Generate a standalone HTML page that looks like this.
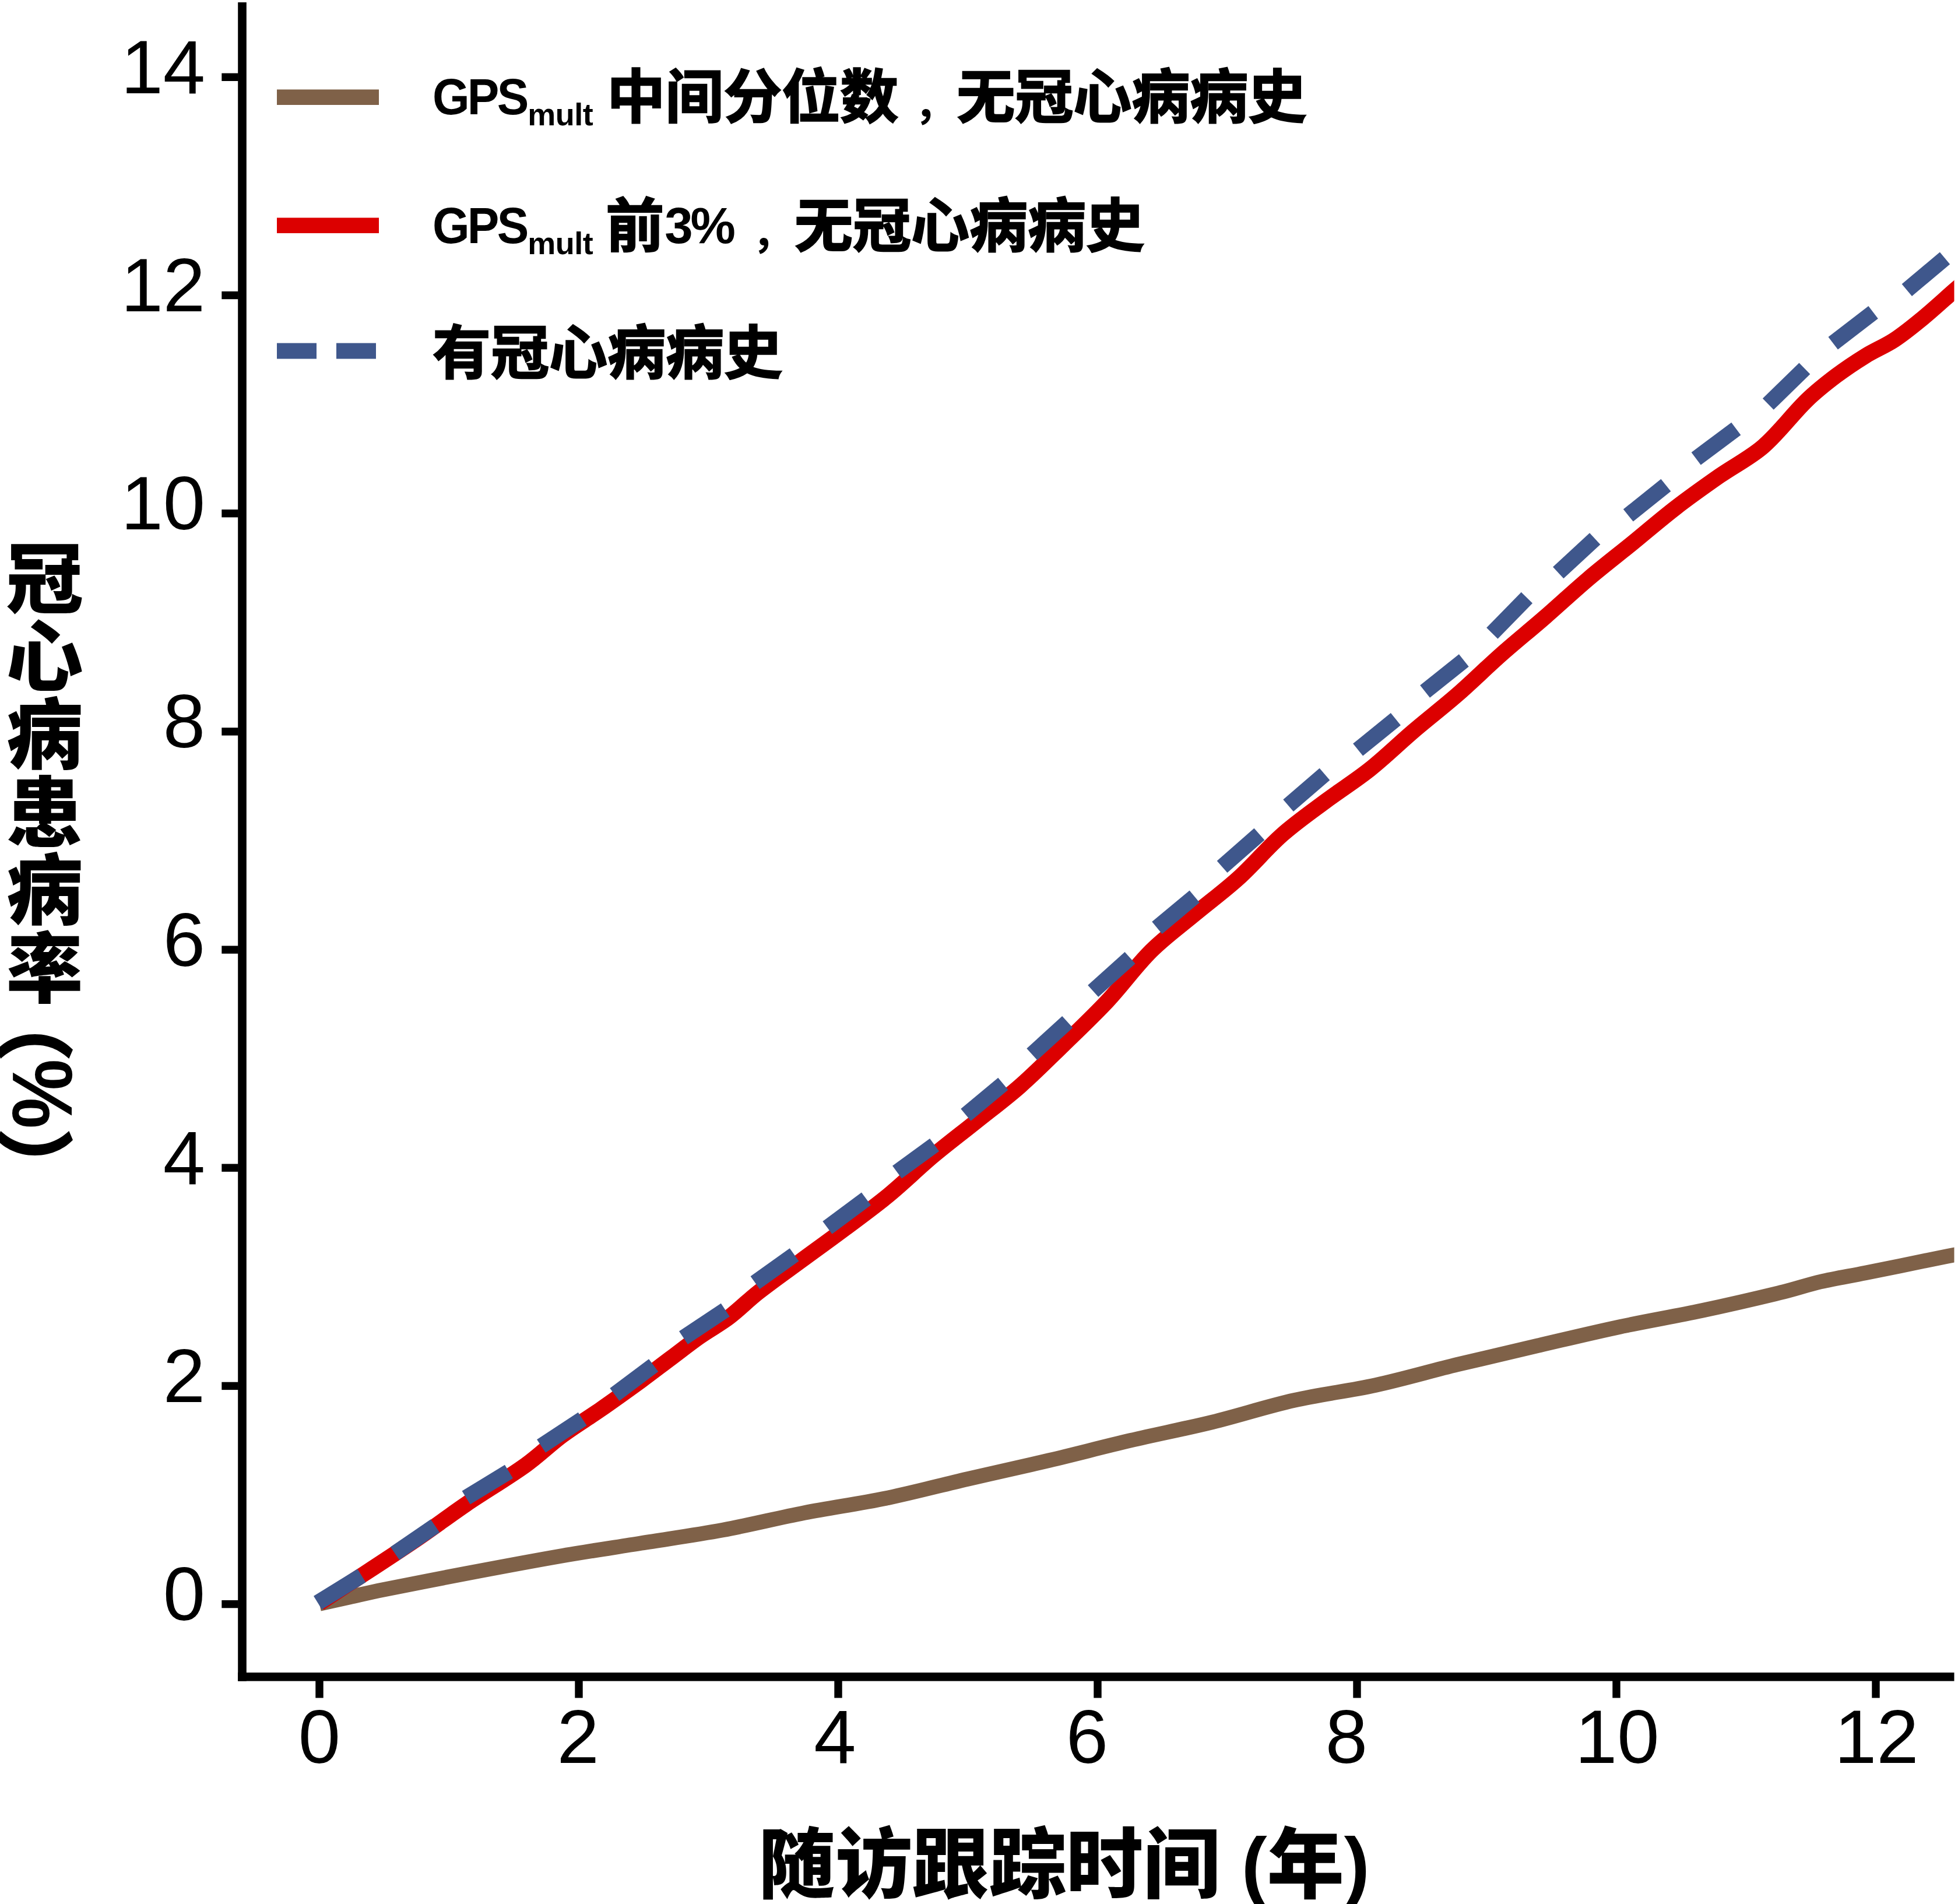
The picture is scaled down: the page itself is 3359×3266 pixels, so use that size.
<!DOCTYPE html>
<html lang="zh-CN"><head><meta charset="utf-8"><title>冠心病患病率</title>
<style>
html,body{margin:0;padding:0;background:#fff;width:3359px;height:3266px;overflow:hidden;}
.page{width:3359px;height:3266px;position:relative;overflow:hidden;background:#fff;font-family:"Liberation Sans","Noto Sans CJK SC",sans-serif;color:#000;}
.yl{position:absolute;right:3007px;font-size:130px;line-height:130px;height:130px;white-space:nowrap;text-align:right;}
.xl{position:absolute;width:400px;text-align:center;font-size:130px;line-height:130px;height:130px;top:2914px;white-space:nowrap;}
.lg{position:absolute;left:742px;white-space:nowrap;font-weight:700;font-size:100px;line-height:140px;height:140px;}
.lg span{display:inline-block;vertical-align:baseline;}
.lg .en{font-size:87px;letter-spacing:-4px;position:relative;top:-6px;transform:scaleX(0.94);transform-origin:0 50%;margin-right:-10px;}
.lg .sub{font-size:54px;position:relative;top:12.5px;margin-left:1.5px;letter-spacing:-0.5px;}
.xt{position:absolute;left:1301px;top:3110px;font-weight:900;font-size:132px;line-height:180px;white-space:nowrap;}
.xt .en{font-weight:700;}
.lg .zh{-webkit-text-stroke:2.4px #000;}
.lg .cm{-webkit-text-stroke:0;position:relative;left:27px;font-size:72px;width:100px;top:1.5px;}
.yt{position:absolute;left:-2px;top:925px;letter-spacing:1.5px;width:132px;font-weight:900;font-size:132px;line-height:132px;writing-mode:vertical-rl;white-space:nowrap;}
.rot{position:absolute;white-space:nowrap;transform-origin:0 0;transform:rotate(90deg);font-weight:900;line-height:1;}
</style></head><body><div class="page">

<svg width="3359" height="3266" viewBox="0 0 3359 3266" style="position:absolute;left:0;top:0">
<defs><clipPath id="plotclip"><rect x="0" y="0" width="3352.5" height="3266"/></clipPath></defs>
<path d="M548.0,2751.0 C565.3,2747.2 582.7,2743.3 600.0,2739.5 C619.0,2735.3 637.9,2730.9 657.0,2727.0 C704.6,2717.4 752.3,2708.1 800.0,2699.0 C853.3,2688.9 906.6,2678.8 960.0,2669.5 C1006.6,2661.4 1053.3,2654.5 1100.0,2647.0 C1146.7,2639.5 1193.5,2633.1 1240.0,2624.5 C1286.9,2615.8 1333.2,2604.1 1380.0,2595.0 C1426.5,2585.9 1473.6,2579.6 1520.0,2570.0 C1566.9,2560.3 1613.3,2547.8 1660.0,2537.0 C1706.6,2526.2 1753.4,2516.0 1800.0,2505.0 C1846.8,2493.9 1893.2,2481.7 1940.0,2470.7 C1986.6,2459.8 2033.6,2450.7 2080.0,2439.3 C2126.9,2427.8 2172.9,2412.6 2220.0,2402.0 C2266.3,2391.5 2313.6,2386.2 2360.0,2376.0 C2407.0,2365.7 2453.2,2352.1 2500.0,2340.7 C2546.6,2329.4 2593.3,2318.6 2640.0,2307.8 C2686.6,2297.0 2733.2,2285.7 2780.0,2275.7 C2826.5,2265.8 2873.5,2257.9 2920.0,2248.0 C2966.8,2238.0 3013.5,2227.2 3060.0,2215.9 C3081.2,2210.8 3101.8,2203.6 3123.0,2198.7 C3148.5,2192.8 3174.4,2188.7 3200.0,2183.5 C3246.7,2174.1 3293.3,2164.5 3340.0,2155.0 C3360.0,2151.0 3380.0,2147.0 3400.0,2143.0" fill="none" stroke="#7f6148" stroke-width="25.5" stroke-linejoin="round" stroke-linecap="butt" clip-path="url(#plotclip)"/>
<path d="M548.0,2750.0 C559.7,2742.3 571.3,2734.7 583.0,2727.0 C626.0,2698.7 669.4,2670.9 712.0,2642.0 C741.7,2621.9 770.3,2600.2 800.0,2580.0 C833.7,2557.2 868.9,2536.7 902.0,2513.0 C924.0,2497.3 943.3,2478.1 965.0,2462.0 C985.5,2446.8 1007.5,2433.6 1028.5,2419.0 C1052.5,2402.3 1076.3,2385.2 1100.0,2368.0 C1116.8,2355.7 1133.3,2342.9 1150.0,2330.4 C1166.7,2317.9 1183.0,2305.0 1200.0,2293.0 C1216.3,2281.5 1234.1,2272.0 1250.0,2260.0 C1267.5,2246.8 1282.8,2231.0 1300.0,2217.5 C1324.5,2198.3 1350.0,2180.4 1375.0,2162.0 C1400.0,2143.6 1425.2,2125.6 1450.0,2107.0 C1475.2,2088.1 1500.7,2069.6 1525.0,2049.6 C1550.7,2028.4 1574.5,2004.8 1600.0,1983.3 C1624.5,1962.7 1650.1,1943.5 1675.0,1923.5 C1700.1,1903.4 1725.9,1884.2 1750.0,1863.0 C1775.9,1840.2 1800.2,1815.6 1825.0,1791.5 C1850.3,1766.9 1875.9,1742.7 1900.0,1717.0 C1926.0,1689.2 1948.0,1657.8 1975.0,1631.0 C1998.2,1607.9 2024.9,1588.6 2050.0,1567.7 C2074.9,1547.0 2101.0,1527.8 2125.0,1506.0 C2151.1,1482.3 2173.6,1454.8 2200.0,1431.5 C2223.7,1410.6 2249.7,1392.5 2275.0,1373.6 C2299.7,1355.2 2325.9,1338.8 2350.0,1319.6 C2376.0,1298.9 2399.7,1275.5 2425.0,1254.0 C2449.7,1232.9 2475.5,1213.1 2500.0,1191.7 C2525.5,1169.4 2549.6,1145.5 2575.0,1123.0 C2599.6,1101.2 2625.2,1080.6 2650.0,1059.0 C2675.2,1037.1 2699.5,1014.3 2725.0,992.7 C2749.5,971.9 2775.0,952.3 2800.0,932.0 C2825.0,911.6 2849.4,890.4 2875.0,870.7 C2899.5,851.8 2924.7,834.0 2950.0,816.3 C2974.7,799.0 3002.2,785.5 3025.0,765.7 C3052.5,741.9 3073.9,711.6 3100.0,686.3 C3115.6,671.2 3132.7,657.7 3150.0,644.6 C3166.1,632.5 3182.9,621.3 3200.0,610.7 C3216.2,600.7 3234.1,593.5 3250.0,583.0 C3267.5,571.4 3283.8,558.0 3300.0,544.6 C3317.8,529.9 3334.7,514.2 3352.0,499.0 C3368.0,485.0 3384.0,471.0 3400.0,457.0" fill="none" stroke="#dc0000" stroke-width="27" stroke-linejoin="round" stroke-linecap="butt" clip-path="url(#plotclip)"/>
<path d="M545.1,2749.2 L620.4,2702.8" fill="none" stroke="#3f578c" stroke-width="27" stroke-linecap="butt"/>
<path d="M677.5,2664.6 L746.5,2617.4" fill="none" stroke="#3f578c" stroke-width="27" stroke-linecap="butt"/>
<path d="M799.6,2569.1 L873.0,2524.3" fill="none" stroke="#3f578c" stroke-width="27" stroke-linecap="butt"/>
<path d="M928.5,2480.5 L999.2,2433.9" fill="none" stroke="#3f578c" stroke-width="27" stroke-linecap="butt"/>
<path d="M1054.4,2392.1 L1121.2,2342.0" fill="none" stroke="#3f578c" stroke-width="27" stroke-linecap="butt"/>
<path d="M1172.5,2294.8 L1244.3,2247.0" fill="none" stroke="#3f578c" stroke-width="27" stroke-linecap="butt"/>
<path d="M1295.4,2200.3 L1362.6,2152.2" fill="none" stroke="#3f578c" stroke-width="27" stroke-linecap="butt"/>
<path d="M1419.4,2105.9 L1486.0,2056.3" fill="none" stroke="#3f578c" stroke-width="27" stroke-linecap="butt"/>
<path d="M1539.0,2010.7 L1603.1,1963.8" fill="none" stroke="#3f578c" stroke-width="27" stroke-linecap="butt"/>
<path d="M1656.9,1912.4 L1720.9,1859.2" fill="none" stroke="#3f578c" stroke-width="27" stroke-linecap="butt"/>
<path d="M1770.4,1808.4 L1831.3,1753.0" fill="none" stroke="#3f578c" stroke-width="27" stroke-linecap="butt"/>
<path d="M1875.2,1700.0 L1938.6,1643.0" fill="none" stroke="#3f578c" stroke-width="27" stroke-linecap="butt"/>
<path d="M1984.9,1591.5 L2049.3,1537.9" fill="none" stroke="#3f578c" stroke-width="27" stroke-linecap="butt"/>
<path d="M2096.6,1486.8 L2160.4,1430.8" fill="none" stroke="#3f578c" stroke-width="27" stroke-linecap="butt"/>
<path d="M2210.1,1381.7 L2272.5,1328.0" fill="none" stroke="#3f578c" stroke-width="27" stroke-linecap="butt"/>
<path d="M2329.6,1286.1 L2394.4,1233.6" fill="none" stroke="#3f578c" stroke-width="27" stroke-linecap="butt"/>
<path d="M2444.6,1186.1 L2511.3,1132.9" fill="none" stroke="#3f578c" stroke-width="27" stroke-linecap="butt"/>
<path d="M2559.8,1086.2 L2619.4,1025.3" fill="none" stroke="#3f578c" stroke-width="27" stroke-linecap="butt"/>
<path d="M2673.2,982.4 L2736.2,924.2" fill="none" stroke="#3f578c" stroke-width="27" stroke-linecap="butt"/>
<path d="M2793.3,884.1 L2857.9,832.2" fill="none" stroke="#3f578c" stroke-width="27" stroke-linecap="butt"/>
<path d="M2909.7,786.7 L2978.3,735.5" fill="none" stroke="#3f578c" stroke-width="27" stroke-linecap="butt"/>
<path d="M3033.3,693.1 L3095.9,632.1" fill="none" stroke="#3f578c" stroke-width="27" stroke-linecap="butt"/>
<path d="M3144.7,588.7 L3213.6,535.8" fill="none" stroke="#3f578c" stroke-width="27" stroke-linecap="butt"/>
<path d="M3271.3,497.6 L3336.5,442.9" fill="none" stroke="#3f578c" stroke-width="27" stroke-linecap="butt"/>
<rect x="408.2" y="4" width="14.6" height="2879.6" fill="#000"/>
<rect x="408.2" y="2869" width="2944.3" height="14.6" fill="#000"/>
<rect x="380.3" y="2744.9" width="28.5" height="13.4" fill="#000"/>
<rect x="380.3" y="2370.7" width="28.5" height="13.4" fill="#000"/>
<rect x="380.3" y="1996.5" width="28.5" height="13.4" fill="#000"/>
<rect x="380.3" y="1622.4" width="28.5" height="13.4" fill="#000"/>
<rect x="380.3" y="1248.2" width="28.5" height="13.4" fill="#000"/>
<rect x="380.3" y="874.0" width="28.5" height="13.4" fill="#000"/>
<rect x="380.3" y="499.8" width="28.5" height="13.4" fill="#000"/>
<rect x="380.3" y="125.6" width="28.5" height="13.4" fill="#000"/>
<rect x="541.3" y="2883" width="13.4" height="29.5" fill="#000"/>
<rect x="986.3" y="2883" width="13.4" height="29.5" fill="#000"/>
<rect x="1431.3" y="2883" width="13.4" height="29.5" fill="#000"/>
<rect x="1876.3" y="2883" width="13.4" height="29.5" fill="#000"/>
<rect x="2321.3" y="2883" width="13.4" height="29.5" fill="#000"/>
<rect x="2766.3" y="2883" width="13.4" height="29.5" fill="#000"/>
<rect x="3211.3" y="2883" width="13.4" height="29.5" fill="#000"/>
<rect x="475" y="153.5" width="175" height="26.5" fill="#7f6148"/>
<rect x="475" y="373.5" width="175" height="26.5" fill="#dc0000"/>
<rect x="475" y="588.5" width="68" height="27" fill="#3f578c"/>
<rect x="577" y="588.5" width="68" height="27" fill="#3f578c"/>
</svg>
<div class="yl" id="yl0" style="top:2669.1px">0</div>
<div class="yl" id="yl2" style="top:2294.9px">2</div>
<div class="yl" id="yl4" style="top:1920.7px">4</div>
<div class="yl" id="yl6" style="top:1546.6px">6</div>
<div class="yl" id="yl8" style="top:1172.4px">8</div>
<div class="yl" id="yl10" style="top:798.2px">10</div>
<div class="yl" id="yl12" style="top:424.0px">12</div>
<div class="yl" id="yl14" style="top:49.8px">14</div>
<div class="xl" id="xl0" style="left:348.0px">0</div>
<div class="xl" id="xl2" style="left:791.7px">2</div>
<div class="xl" id="xl4" style="left:1232.5px">4</div>
<div class="xl" id="xl6" style="left:1665.0px">6</div>
<div class="xl" id="xl8" style="left:2110.0px">8</div>
<div class="xl" id="xl10" style="left:2574.2px">10</div>
<div class="xl" id="xl12" style="left:3019.2px">12</div>
<div class="lg" style="top:97px"><span class="en" id="gps1">GPS</span><span class="sub" id="mult1">mult</span><span class="zh" id="zh1" style="margin-left:24px">中间分位数<span class="cm" id="cm1">，</span>无冠心病病史</span></div>
<div class="lg" style="top:318px"><span class="en">GPS</span><span class="sub">mult</span><span class="zh" id="qian" style="margin-left:22px">前</span><span class="en" id="pct" style="margin-left:1px;transform:none;margin-right:0">3%</span><span class="zh" id="zh2" style="margin-left:5px"><span class="cm" id="cm2">，</span>无冠心病病史</span></div>
<div class="lg" style="top:536px"><span class="zh">有冠心病病史</span></div>
<div class="xt">随访跟踪时间 <span class="en">(</span>年<span class="en">)</span></div>
<div class="yt">冠心病患病率</div>
<div class="rot" id="p1" style="left:122px;top:1686.9px;font-size:135px;">（</div>
<div class="rot" id="pc" style="left:146px;top:1817.2px;font-size:140px;font-weight:700;transform:rotate(90deg) scale(0.957,1.05);">%</div>
<div class="rot" id="p2" style="left:122px;top:1934.3px;font-size:135px;">）</div>
</div></body></html>
